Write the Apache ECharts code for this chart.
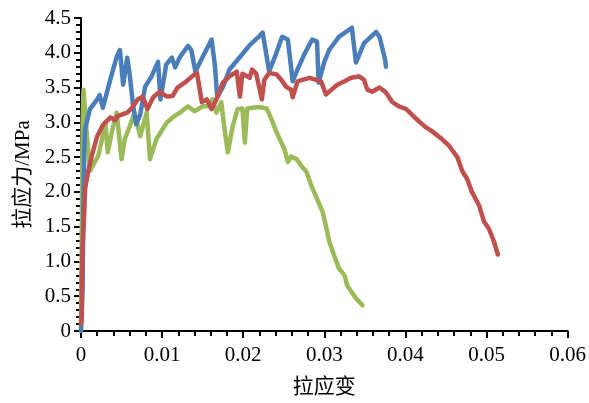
<!DOCTYPE html>
<html lang="zh">
<head>
    <meta charset="UTF-8">
    <title>拉应力-拉应变</title>
    <style>
        html, body { margin: 0; padding: 0; background: #fff; }
        #chart { width: 589px; height: 403px; }
    </style>
</head>
<body>
<div id="chart"></div>

<script type="text/javascript" src="https://cdn.jsdelivr.net/npm/echarts@6/dist/echarts.min.js"></script>
<script>
    // 数据 [应变, 应力MPa]
    var blueData = [
        [0, 0], [0.0002, 0.6], [0.0003, 1.9], [0.0004, 2.6], [0.0005, 2.9], [0.0011, 3.19],
        [0.002, 3.33], [0.0023, 3.39], [0.0027, 3.21], [0.0036, 3.61], [0.0044, 3.94], [0.0048, 4.04],
        [0.0052, 3.54], [0.0057, 3.93], [0.006, 3.69], [0.0064, 3.26], [0.0068, 2.97], [0.0073, 3.11],
        [0.0079, 3.51], [0.0087, 3.66], [0.0095, 3.87], [0.0098, 3.33], [0.0105, 3.83], [0.0112, 3.93],
        [0.0116, 3.79], [0.0122, 3.94], [0.0132, 4.1], [0.0136, 4.04], [0.0141, 3.73], [0.015, 3.94],
        [0.0161, 4.19], [0.0165, 3.83], [0.0168, 3.36], [0.0175, 3.51], [0.0183, 3.76], [0.0196, 3.94],
        [0.0208, 4.11], [0.022, 4.24], [0.0224, 4.29], [0.0232, 3.73], [0.024, 3.97], [0.0248, 4.23],
        [0.0255, 4.19], [0.0261, 3.59], [0.0267, 3.76], [0.0275, 3.97], [0.0285, 4.19], [0.0291, 4.16],
        [0.0293, 3.57], [0.03, 3.87], [0.0306, 4.04], [0.0318, 4.23], [0.0334, 4.36], [0.0339, 3.86],
        [0.0349, 4.14], [0.0364, 4.3], [0.0368, 4.23], [0.0371, 4.09], [0.0375, 3.9], [0.0376, 3.8]
    ];
    var redData = [
        [0, 0.1], [0.0001, 0.23], [0.0001, 0.76], [0.0002, 1.23], [0.0004, 1.71], [0.0005, 2.04],
        [0.0009, 2.3], [0.0014, 2.55], [0.002, 2.8], [0.0027, 2.96], [0.0036, 3.07], [0.0042, 3.03],
        [0.0045, 3.09], [0.0057, 3.14], [0.0063, 3.21], [0.007, 3.33], [0.0076, 3.37], [0.0082, 3.19],
        [0.0089, 3.36], [0.0097, 3.44], [0.0106, 3.37], [0.0113, 3.38], [0.0119, 3.5], [0.013, 3.59],
        [0.014, 3.69], [0.0143, 3.71], [0.0149, 3.29], [0.0155, 3.33], [0.0161, 3.19], [0.0167, 3.33],
        [0.0175, 3.57], [0.0183, 3.66], [0.0192, 3.73], [0.0196, 3.37], [0.0199, 3.7], [0.0208, 3.64],
        [0.0211, 3.76], [0.0216, 3.7], [0.0223, 3.33], [0.0226, 3.61], [0.0232, 3.71], [0.0241, 3.69],
        [0.0247, 3.61], [0.0253, 3.51], [0.0259, 3.47], [0.0261, 3.36], [0.0267, 3.59], [0.0273, 3.61],
        [0.0282, 3.64], [0.029, 3.61], [0.0296, 3.59], [0.0302, 3.4], [0.0309, 3.47], [0.0316, 3.54],
        [0.0325, 3.59], [0.0333, 3.64], [0.0343, 3.66], [0.0349, 3.61], [0.0353, 3.47], [0.0359, 3.44],
        [0.0368, 3.5], [0.0376, 3.43], [0.0384, 3.29], [0.0392, 3.23], [0.0401, 3.19], [0.0408, 3.11],
        [0.0417, 3.01], [0.0425, 2.93], [0.0433, 2.87], [0.0445, 2.76], [0.0454, 2.66], [0.0464, 2.5],
        [0.047, 2.3], [0.0476, 2.19], [0.0482, 2.0], [0.0491, 1.8], [0.0497, 1.57], [0.0503, 1.47],
        [0.0509, 1.29], [0.0514, 1.1]
    ];
    var greenData = [
        [0, 0], [0.0001, 1.5], [0.0002, 3.0], [0.0003, 3.47], [0.0007, 2.86], [0.0011, 2.3],
        [0.0017, 2.43], [0.0021, 2.51], [0.0026, 2.76], [0.003, 3.0], [0.0033, 2.57], [0.0038, 2.86],
        [0.0044, 3.14], [0.005, 2.47], [0.0054, 2.76], [0.006, 2.94], [0.0066, 3.14], [0.0073, 2.8],
        [0.0081, 3.14], [0.0085, 2.47], [0.0093, 2.76], [0.0106, 3.0], [0.0113, 3.07], [0.0122, 3.14],
        [0.0132, 3.23], [0.014, 3.16], [0.015, 3.23], [0.0156, 3.23], [0.0162, 3.33], [0.0167, 3.14],
        [0.0173, 3.29], [0.0177, 2.9], [0.0181, 2.57], [0.0187, 2.94], [0.0193, 3.19], [0.0199, 3.2],
        [0.0202, 2.71], [0.0205, 3.2], [0.0211, 3.21], [0.022, 3.22], [0.0229, 3.2], [0.0235, 3.04],
        [0.0241, 2.86], [0.0247, 2.71], [0.0251, 2.61], [0.0255, 2.43], [0.0259, 2.51], [0.0266, 2.47],
        [0.0272, 2.37], [0.0278, 2.29], [0.0284, 2.09], [0.0291, 1.9], [0.0298, 1.71], [0.0302, 1.51],
        [0.0306, 1.29], [0.0312, 1.09], [0.0318, 0.9], [0.0325, 0.8], [0.0328, 0.66], [0.0333, 0.57],
        [0.0339, 0.47], [0.0347, 0.37]
    ];

    var xMax = 0.06;
    var yMax = 4.5;

    var fontFamily = '"Liberation Serif", "Times New Roman", "Noto Sans CJK SC", serif';

    var myChart = echarts.init(document.getElementById('chart'), null, {renderer: 'canvas'});

    var lineSeries = function (name, data, color) {
        return {
            name: name,
            type: 'line',
            data: data,
            showSymbol: false,
            symbol: 'none',
            lineStyle: {width: 4.5, color: color, cap: 'round', join: 'round'},
            itemStyle: {color: color}
        };
    };

    var option = {
        animation: false,
        backgroundColor: '#ffffff',
        grid: {left: 81, right: 20, top: 18, bottom: 70},
        xAxis: {
            type: 'value',
            min: 0,
            max: xMax,
            interval: 0.01,
            name: '拉应变',
            nameLocation: 'middle',
            nameGap: 46,
            nameTextStyle: {color: '#000', fontSize: 21, fontFamily: fontFamily},
            axisLine: {show: true, onZero: false, lineStyle: {color: '#000', width: 2}},
            axisTick: {show: true, inside: false, length: 7, lineStyle: {color: '#000', width: 2}},
            minorTick: {show: true, splitNumber: 5, length: 5, lineStyle: {color: '#000', width: 2}},
            splitLine: {show: false},
            axisLabel: {
                color: '#000', fontSize: 21, fontFamily: fontFamily, margin: 14,
                formatter: function (v) { return v === 0 ? '0' : v.toFixed(2); }
            }
        },
        yAxis: {
            type: 'value',
            min: 0,
            max: yMax,
            interval: 0.5,
            name: '拉应力/MPa',
            nameLocation: 'middle',
            nameGap: 41,
            nameRotate: 90,
            nameTextStyle: {color: '#000', fontSize: 21, fontFamily: fontFamily},
            axisLine: {show: true, onZero: false, lineStyle: {color: '#000', width: 2}},
            axisTick: {show: true, inside: false, length: 7, lineStyle: {color: '#000', width: 2}},
            minorTick: {show: true, splitNumber: 5, length: 5, lineStyle: {color: '#000', width: 2}},
            splitLine: {show: false},
            axisLabel: {
                color: '#000', fontSize: 21, fontFamily: fontFamily, margin: 10,
                formatter: function (v) { return v === 0 ? '0' : v.toFixed(1); }
            }
        },
        series: [
            lineSeries('试件3', greenData, '#9BBB59'),
            lineSeries('试件1', blueData, '#4A7EBB'),
            lineSeries('试件2', redData, '#C0504D')
        ]
    };

    myChart.setOption(option);
</script>
</body>
</html>
